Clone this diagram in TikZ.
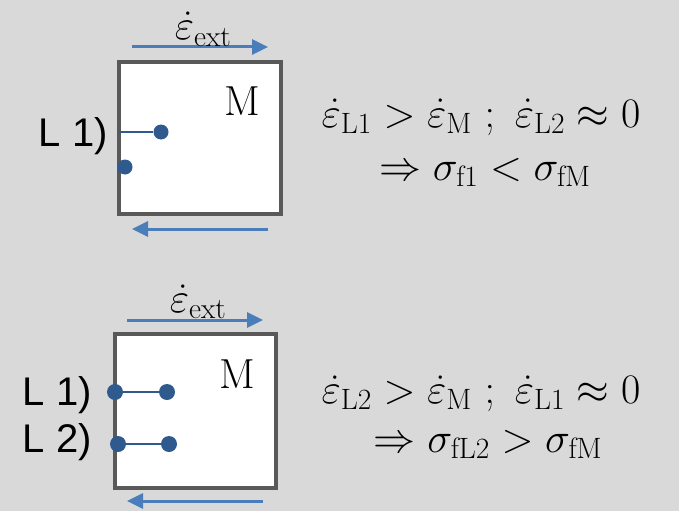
\RequirePackage{fix-cm}
\documentclass[tikz,border=0pt]{standalone}
\usepackage{fontspec}
\newfontfamily\labelfont{Liberation Sans}
\usetikzlibrary{arrows.meta,calc}
\definecolor{Canvas}{HTML}{D9D9D9}
\definecolor{Frame}{HTML}{595959}
\definecolor{Shear}{HTML}{4A7EBB}
\definecolor{Layer}{HTML}{2F5A8E}
\tikzset{
  matrixbox/.style={
    draw=Frame, line width=4pt, fill=white, inner sep=0pt, outer sep=0pt
  },
  shear/.style={-{Triangle[length=16pt,width=15pt]}, line width=3pt, draw=Shear},
  layerdot/.style={circle, fill=Layer, minimum size=15pt, inner sep=0pt},
  tie/.style={line width=2pt, draw=Layer},
  layerlabel/.style={font=\labelfont\fontsize{40}{48}\selectfont, anchor=base east, inner sep=0pt},
  mathtext/.style={font=\fontsize{42}{50}\selectfont, anchor=base, inner sep=0pt}
}

\begin{document}
\begin{tikzpicture}[x=1pt,y=-1pt]
  \fill[Canvas] (0,0) rectangle (679,511);
  \useasboundingbox (0,0) rectangle (679,511);

  % upper case: only L1 is sheared
  \node[matrixbox, minimum width=162pt, minimum height=152pt] (boxA) at (200,138) {};
  \coordinate (sA1) at ($(boxA.north west)+(13,-15)$);
  \coordinate (sA2) at ($(boxA.north east)+(-13,-15)$);
  \coordinate (sA3) at ($(boxA.south east)+(-13,15)$);
  \coordinate (sA4) at ($(boxA.south west)+(13,15)$);
  \draw[shear] (sA1) -- (sA2);
  \draw[shear] (sA3) -- (sA4);
  \node[mathtext] (extA) at (203,40) {$\dot{\varepsilon}_{\mathrm{ext}}$};
  \node[mathtext] (mA) at (242,115) {M};
  \node[layerlabel] (labA1) at (108,146) {L 1)};
  \node[layerdot] (dA1) at (161,132) {};
  \coordinate (eA1) at (boxA.west |- dA1);
  \draw[tie] (eA1) -- (dA1);
  \node[layerdot] (dA2) at (125,167) {};
  \node[mathtext] (relA1) at (481,127)
    {$\dot{\varepsilon}_{\mathrm{L1}} > \dot{\varepsilon}_{\mathrm{M}}\ ;\ \dot{\varepsilon}_{\mathrm{L2}} \approx 0$};
  \node[mathtext] (relA2) at (485,180)
    {$\Rightarrow \sigma_{\mathrm{f1}} < \sigma_{\mathrm{fM}}$};

  % lower case: L1 and L2
  \node[matrixbox, minimum width=161pt, minimum height=154pt] (boxB) at (195.5,411) {};
  \coordinate (sB1) at ($(boxB.north west)+(12,-14)$);
  \coordinate (sB2) at ($(boxB.north east)+(-13,-14)$);
  \coordinate (sB3) at ($(boxB.south east)+(-13,13)$);
  \coordinate (sB4) at ($(boxB.south west)+(12,13)$);
  \draw[shear] (sB1) -- (sB2);
  \draw[shear] (sB3) -- (sB4);
  \node[mathtext] (extB) at (198,312) {$\dot{\varepsilon}_{\mathrm{ext}}$};
  \node[mathtext] (mB) at (237,388) {M};
  \node[layerlabel] (labB1) at (92,405) {L 1)};
  \node[layerlabel] (labB2) at (92,452) {L 2)};
  \node[layerdot, minimum size=16pt] (dB1) at (115,392) {};
  \node[layerdot, minimum size=16pt] (dB1r) at (167,392) {};
  \node[layerdot, minimum size=16pt] (dB2) at (118,444) {};
  \node[layerdot, minimum size=16pt] (dB2r) at (169,444) {};
  \draw[tie] (dB1) -- (dB1r);
  \draw[tie] (dB2) -- (dB2r);
  \node[mathtext] (relB1) at (481,403)
    {$\dot{\varepsilon}_{\mathrm{L2}} > \dot{\varepsilon}_{\mathrm{M}}\ ;\ \dot{\varepsilon}_{\mathrm{L1}} \approx 0$};
  \node[mathtext] (relB2) at (488,452)
    {$\Rightarrow \sigma_{\mathrm{fL2}} > \sigma_{\mathrm{fM}}$};
\end{tikzpicture}
\end{document}
